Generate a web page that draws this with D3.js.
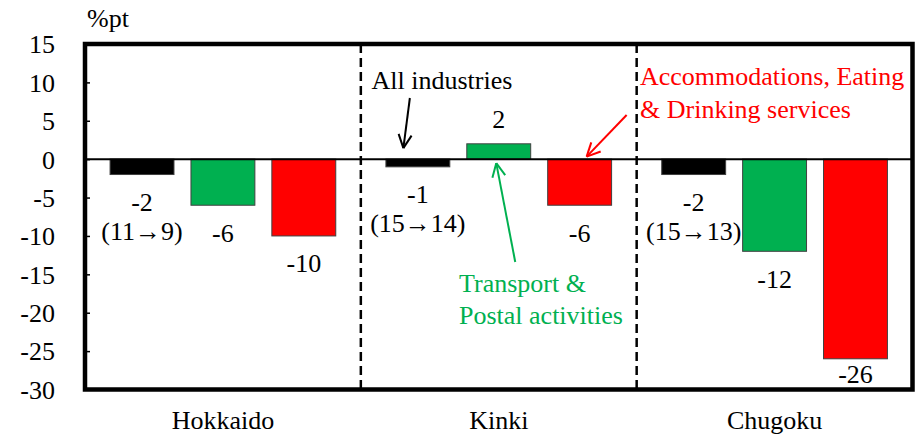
<!DOCTYPE html>
<html>
<head>
<meta charset="utf-8">
<script src="https://cdn.jsdelivr.net/npm/d3@7/dist/d3.min.js"></script>
<style>
  html, body { margin: 0; padding: 0; background: #fff; }
  svg { display: block; }
</style>
</head>
<body>
<svg id="chart" width="918" height="437"></svg>
<script>
// Change in share by region (percentage points)
const categories = ["Hokkaido", "Kinki", "Chugoku"];
const seriesNames = ["All industries", "Transport & Postal activities", "Accommodations, Eating & Drinking services"];
const allIndustries = [-2, -1, -2];
const transportPostal = [-6, 2, -12];
const accommodationsEating = [-10, -6, -26];
const allIndustriesShift = ["(11\u21929)", "(15\u219214)", "(15\u219213)"];
const yTickValues = [15, 10, 5, 0, -5, -10, -15, -20, -25, -30];
const unitLabel = "%pt";

const seriesValues = [allIndustries, transportPostal, accommodationsEating];
const seriesColors = ["#000000", "#00B050", "#FF0000"];
const FONT = "'Liberation Serif', Tinos, 'Times New Roman', Times, 'Nimbus Roman', 'Nimbus Roman No9 L', FreeSerif, 'Noto Serif', 'DejaVu Serif', Georgia, serif";

const svg = d3.select("#chart")
  .attr("font-family", FONT).attr("font-size", 26);
const plot = { left: 85, right: 912.5, top: 44, bottom: 389.5 };

const x0 = d3.scaleBand().domain(categories).range([plot.left, plot.right]).padding(0);
const x1 = d3.scaleBand().domain(d3.range(seriesNames.length))
  .range([0, x0.bandwidth()]).paddingInner(0.21).paddingOuter(0.31);
const y = d3.scaleLinear().domain([-30, 15]).range([plot.bottom, plot.top]);

// unit label
svg.append("text").attr("x", 87).attr("y", 27).text(unitLabel);

// y axis (ticks pointing into the plot)
const yAxis = d3.axisLeft(y).tickValues(yTickValues).tickFormat(d => String(d))
  .tickSizeInner(-5).tickSizeOuter(0).tickPadding(30);
const gy = svg.append("g").attr("transform", `translate(${plot.left},0)`).call(yAxis)
  .attr("font-family", FONT).attr("font-size", 26);
gy.select(".domain").remove();
gy.selectAll(".tick line").attr("stroke", "#000").attr("stroke-width", 1.5);
gy.selectAll(".tick text").attr("fill", "#000").attr("dy", "0.34em");

// dashed region dividers
svg.append("g").selectAll("line").data(categories.slice(1)).join("line")
  .attr("x1", d => x0(d)).attr("x2", d => x0(d))
  .attr("y1", plot.top).attr("y2", plot.bottom)
  .attr("stroke", "#000").attr("stroke-width", 2.5).attr("stroke-dasharray", "9,5");

// bars
const groups = svg.append("g").selectAll("g").data(categories).join("g")
  .attr("transform", d => `translate(${x0(d)},0)`);

groups.selectAll("rect")
  .data((c, ci) => seriesValues.map((vals, si) => ({ si, v: vals[ci] })))
  .join("rect")
  .attr("x", d => x1(d.si))
  .attr("width", x1.bandwidth())
  .attr("y", d => y(Math.max(0, d.v)))
  .attr("height", d => Math.abs(y(d.v) - y(0)))
  .attr("fill", d => seriesColors[d.si])
  .attr("stroke", "#404040").attr("stroke-width", 1);

// value labels
function labelY(v) {
  return v >= 0 ? y(v) - 16 : Math.min(y(v) + 36.5, plot.bottom - 6.5);
}
groups.selectAll("text.val")
  .data((c, ci) => seriesValues.map((vals, si) => ({ si, v: vals[ci] })))
  .join("text").attr("class", "val")
  .attr("x", d => x1(d.si) + x1.bandwidth() / 2)
  .attr("y", d => labelY(d.v))
  .attr("text-anchor", "middle")
  .text(d => String(d.v));

groups.append("text")
  .attr("x", x1(0) + x1.bandwidth() / 2)
  .attr("y", (c, ci) => labelY(allIndustries[ci]) + 29)
  .attr("text-anchor", "middle")
  .text((c, ci) => allIndustriesShift[ci]);

// zero line
svg.append("line")
  .attr("x1", plot.left).attr("x2", plot.right)
  .attr("y1", y(0)).attr("y2", y(0))
  .attr("stroke", "#000").attr("stroke-width", 2);

// frame
svg.append("rect")
  .attr("x", plot.left).attr("y", plot.top)
  .attr("width", plot.right - plot.left).attr("height", plot.bottom - plot.top)
  .attr("fill", "none").attr("stroke", "#000").attr("stroke-width", 4.5);

// category labels
svg.append("g").selectAll("text").data(categories).join("text")
  .attr("x", d => x0(d) + x0.bandwidth() / 2)
  .attr("y", 429)
  .attr("text-anchor", "middle")
  .text(d => d);

// annotation arrows pointing at the Kinki bars
function arrow(x1a, y1a, x2a, y2a, color) {
  const g = svg.append("g").attr("stroke", color).attr("stroke-width", 2).attr("fill", "none");
  g.append("line").attr("x1", x1a).attr("y1", y1a).attr("x2", x2a).attr("y2", y2a);
  const ang = Math.atan2(y1a - y2a, x1a - x2a);
  const len = 15, spread = 0.45;
  [ang - spread, ang + spread].forEach(a => {
    g.append("line").attr("x1", x2a).attr("y1", y2a)
      .attr("x2", x2a + len * Math.cos(a)).attr("y2", y2a + len * Math.sin(a));
  });
}
const kx = x0("Kinki");
const barMid = si => kx + x1(si) + x1.bandwidth() / 2;

arrow(barMid(0) - 8, 98, barMid(0) - 14.5, y(0) - 11, "#000");
arrow(barMid(2) + 47, 115, barMid(2) + 7, y(0) - 2.5, "#FF0000");
arrow(barMid(1) + 16.5, 262, barMid(1) - 2.5, y(0) + 4, "#00B050");

// annotation texts
svg.append("text").attr("x", 371.5).attr("y", 89).text(seriesNames[0]);

const red = svg.append("text").attr("fill", "#FF0000");
red.append("tspan").attr("x", 640).attr("y", 85).text("Accommodations, Eating");
red.append("tspan").attr("x", 640).attr("y", 118).text("& Drinking services");

const green = svg.append("text").attr("fill", "#00B050");
green.append("tspan").attr("x", 459).attr("y", 291.5).text("Transport &");
green.append("tspan").attr("x", 459).attr("y", 323.5).text("Postal activities");
</script>
</body>
</html>
